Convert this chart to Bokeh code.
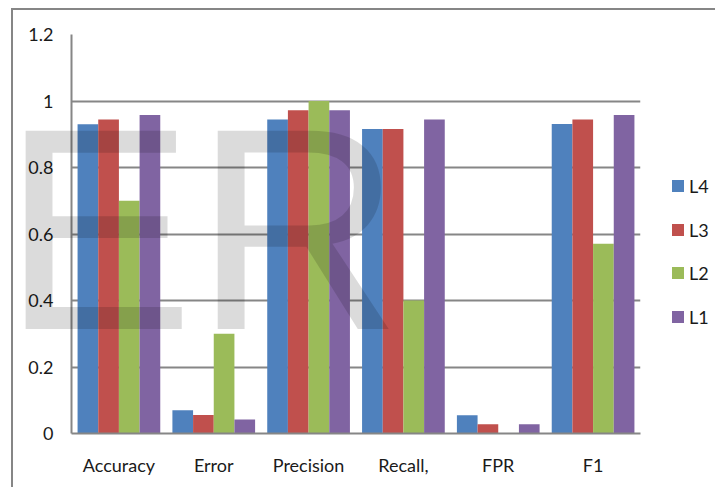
from bokeh.plotting import figure
from bokeh.models import ColumnDataSource, FactorRange, Range1d, FixedTicker, Div
from bokeh.layouts import column
from bokeh.transform import dodge
from bokeh.embed import file_html
from bokeh.resources import INLINE

# ---- data ----
categories = ["Accuracy", "Error", "Precision", "Recall,", "FPR", "F1"]
L4 = [0.930, 0.070, 0.944, 0.916, 0.055, 0.931]
L3 = [0.944, 0.056, 0.972, 0.916, 0.028, 0.944]
L2 = [0.700, 0.300, 1.000, 0.400, 0.000, 0.571]
L1 = [0.958, 0.042, 0.972, 0.944, 0.028, 0.958]
series_names = ["L4", "L3", "L2", "L1"]
series_colors = ["#4F81BD", "#C0504D", "#9BBB59", "#8064A2"]
y_ticks = [0, 0.2, 0.4, 0.6, 0.8, 1, 1.2]
y_tick_labels = ["0", "0.2", "0.4", "0.6", "0.8", "1", "1.2"]
watermark_text = "ER"

source = ColumnDataSource(dict(cat=categories, L4=L4, L3=L3, L2=L2, L1=L1))

GRAY = "#868686"
FONT = "Lato"

p = figure(width=704, height=479, x_range=FactorRange(factors=categories),
           y_range=Range1d(0, 1.2), output_backend="svg", toolbar_location=None,
           min_border_left=58, min_border_right=77, min_border_top=24, min_border_bottom=56)
p.margin = (8, 0, 0, 11)
p.styles = {"border-top": "2px solid #868686", "border-left": "2px solid #868686"}
p.outline_line_color = None
p.background_fill_color = "white"
p.border_fill_color = "white"

bw = 0.218
offsets = [-1.5 * bw, -0.5 * bw, 0.5 * bw, 1.5 * bw]
for name, col, off in zip(series_names, series_colors, offsets):
    p.vbar(x=dodge("cat", off, range=p.x_range), top=name, width=bw, bottom=0,
           source=source, fill_color=col, line_color=None)

# axes
p.yaxis.ticker = FixedTicker(ticks=y_ticks)
p.yaxis.major_label_overrides = {t: s for t, s in zip(y_ticks, y_tick_labels)}
for ax in (p.xaxis[0], p.yaxis[0]):
    ax.axis_line_color = GRAY
    ax.axis_line_width = 2
    ax.major_tick_line_color = None
    ax.minor_tick_line_color = None
    ax.major_tick_out = 0
    ax.major_tick_in = 0
    ax.major_label_text_font = FONT
    ax.major_label_text_font_size = "18px"
    ax.major_label_text_color = "#1a1a1a"
p.yaxis.major_label_standoff = 18
p.xaxis.major_label_standoff = 20

p.xgrid.grid_line_color = None
p.ygrid.grid_line_color = GRAY
p.ygrid.grid_line_width = 2
p.ygrid.ticker = FixedTicker(ticks=y_ticks)

# legend (HTML overlay to the right of the plot area)
rows = "".join(
    '<div style="display:flex;align-items:center;height:43.7px;">'
    f'<span style="display:inline-block;width:12px;height:12px;background:{c};"></span>'
    f'<span style="margin-left:5px;font-family:Lato;font-size:18px;line-height:1;color:#1a1a1a;">{n}</span>'
    '</div>'
    for n, c in zip(series_names, series_colors))
legend_div = Div(text=rows,
                 styles={"position": "absolute", "left": "672px", "top": "164px",
                         "margin": "0", "z-index": "11", "white-space": "nowrap"})

# translucent watermark laid over the whole chart
wm = Div(text=watermark_text,
         styles={"position": "absolute", "left": "2px", "top": "85px",
                 "font-family": "'Liberation Sans'", "font-size": "288px",
                 "line-height": "1", "color": "rgba(0,0,0,0.14)",
                 "pointer-events": "none", "z-index": "10", "margin": "0",
                 "white-space": "nowrap"})

layout = column(p, wm, legend_div)
open("out.html", "w").write(file_html(layout, INLINE))
